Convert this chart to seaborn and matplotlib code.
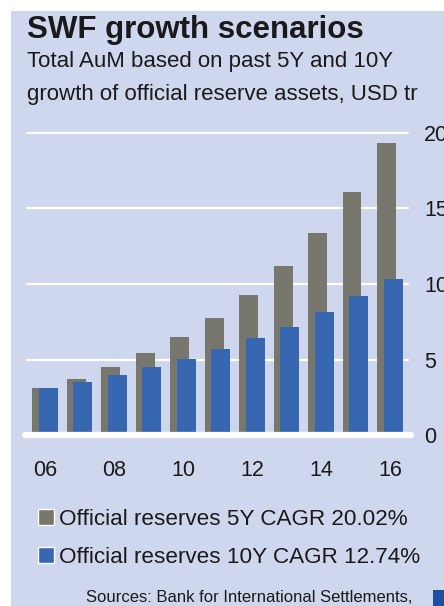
import numpy as np
import pandas as pd
import matplotlib.pyplot as plt
import seaborn as sns
from matplotlib.patches import Rectangle, Patch

# ------------------------------------------------------------------
# Dados
# ------------------------------------------------------------------
anos = ['06', '07', '08', '09', '10', '11', '12', '13', '14', '15', '16']
cagr_5y = [3.13, 3.72, 4.48, 5.43, 6.49, 7.73, 9.27, 11.19, 13.40, 16.09, 19.36]
cagr_10y = [3.13, 3.51, 3.99, 4.48, 5.05, 5.72, 6.40, 7.15, 8.13, 9.18, 10.31]
rotulos_x = ['06', '08', '10', '12', '14', '16']
ticks_y = [0, 5, 10, 15, 20]
legenda = ['Official reserves 5Y CAGR 20.02%', 'Official reserves 10Y CAGR 12.74%']

dados = pd.DataFrame({'ano': anos, 'cinco': cagr_5y, 'dez': cagr_10y})

# ------------------------------------------------------------------
# Estilo
# ------------------------------------------------------------------
sns.set_style("white")
plt.rcParams['font.family'] = ['Liberation Sans', 'DejaVu Sans']

COR_FUNDO = '#cfd7ee'
COR_CINZA = '#78776d'
COR_AZUL = '#3767b0'
COR_TEXTO = '#1a1a1a'

W, H = 444, 606
fig = plt.figure(figsize=(W / 100, H / 100), dpi=100)
fig.patch.set_facecolor('white')
fig.patches.append(Rectangle((11 / W, 0), 1 - 11 / W, 1 - 11 / H, transform=fig.transFigure,
                             facecolor=COR_FUNDO, edgecolor='none', zorder=-10))

ax = fig.add_axes([25 / W, 171 / H, 386 / W, 302 / H])
ax.set_facecolor('none')

largura = 0.55
desloc = 0.2

sns.barplot(data=dados, x='ano', y='cinco', color=COR_CINZA, width=largura,
            saturation=1, ax=ax, zorder=2)
n = len(ax.patches)
sns.barplot(data=dados, x='ano', y='dez', color=COR_AZUL, width=largura,
            saturation=1, ax=ax, zorder=2)
for i, p in enumerate(ax.patches):
    p.set_edgecolor('none')
    if i < n:
        p.set_x(p.get_x() - desloc / 2)
    else:
        p.set_x(p.get_x() + desloc / 2)

ax.set_xlim(-0.58, 10.61)
ax.set_ylim(0, 20)

# grade branca
for y in ticks_y[1:]:
    ax.axhline(y, xmin=2 / 386, xmax=383 / 386, color='white', lw=1.6, zorder=1, clip_on=False)
ax.axhline(0, xmin=0, xmax=1, color='white', lw=4.5, zorder=3, clip_on=False)

sns.despine(ax=ax, left=True, bottom=True)
ax.set_xlabel('')
ax.set_ylabel('')
ax.set_xticks(range(0, len(anos), 2))
ax.set_xticklabels(rotulos_x)
ax.yaxis.tick_right()
ax.set_yticks(ticks_y)
ax.set_yticklabels([str(t) for t in ticks_y])
ax.tick_params(axis='x', length=0, pad=18, labelsize=15.5, labelcolor=COR_TEXTO)
ax.tick_params(axis='y', length=0, pad=9.5, labelsize=15.5, labelcolor=COR_TEXTO)

# títulos
fig.text(27 / W, 1 - 38 / H, 'SWF growth scenarios', fontsize=22.5, fontweight='bold',
         color=COR_TEXTO, va='baseline')
fig.text(27 / W, 1 - 67 / H, 'Total AuM based on past 5Y and 10Y', fontsize=16,
         color=COR_TEXTO, va='baseline')
fig.text(27 / W, 1 - 100 / H, 'growth of official reserve assets, USD tr', fontsize=16,
         color=COR_TEXTO, va='baseline')

# legenda
alcas = [Patch(facecolor=COR_CINZA), Patch(facecolor=COR_AZUL)]
fig.legend(alcas, legenda, loc='upper left', bbox_to_anchor=(38 / W, 1 - 509 / H),
           frameon=False, fontsize=16.2, borderpad=0, borderaxespad=0,
           handlelength=0.72, handleheight=0.75, handletextpad=0.22, labelspacing=0.74,
           labelcolor=COR_TEXTO)

# fonte
fig.text(412 / W, 1 - 598 / H, 'Sources: Bank for International Settlements,', fontsize=12,
         color=COR_TEXTO, ha='right', va='center')
fig.patches.append(Rectangle((433 / W, 0), 11 / W, 16 / H, transform=fig.transFigure,
                             facecolor='#1f4fa0', edgecolor='none'))

fig.savefig('out.png', dpi=100)
